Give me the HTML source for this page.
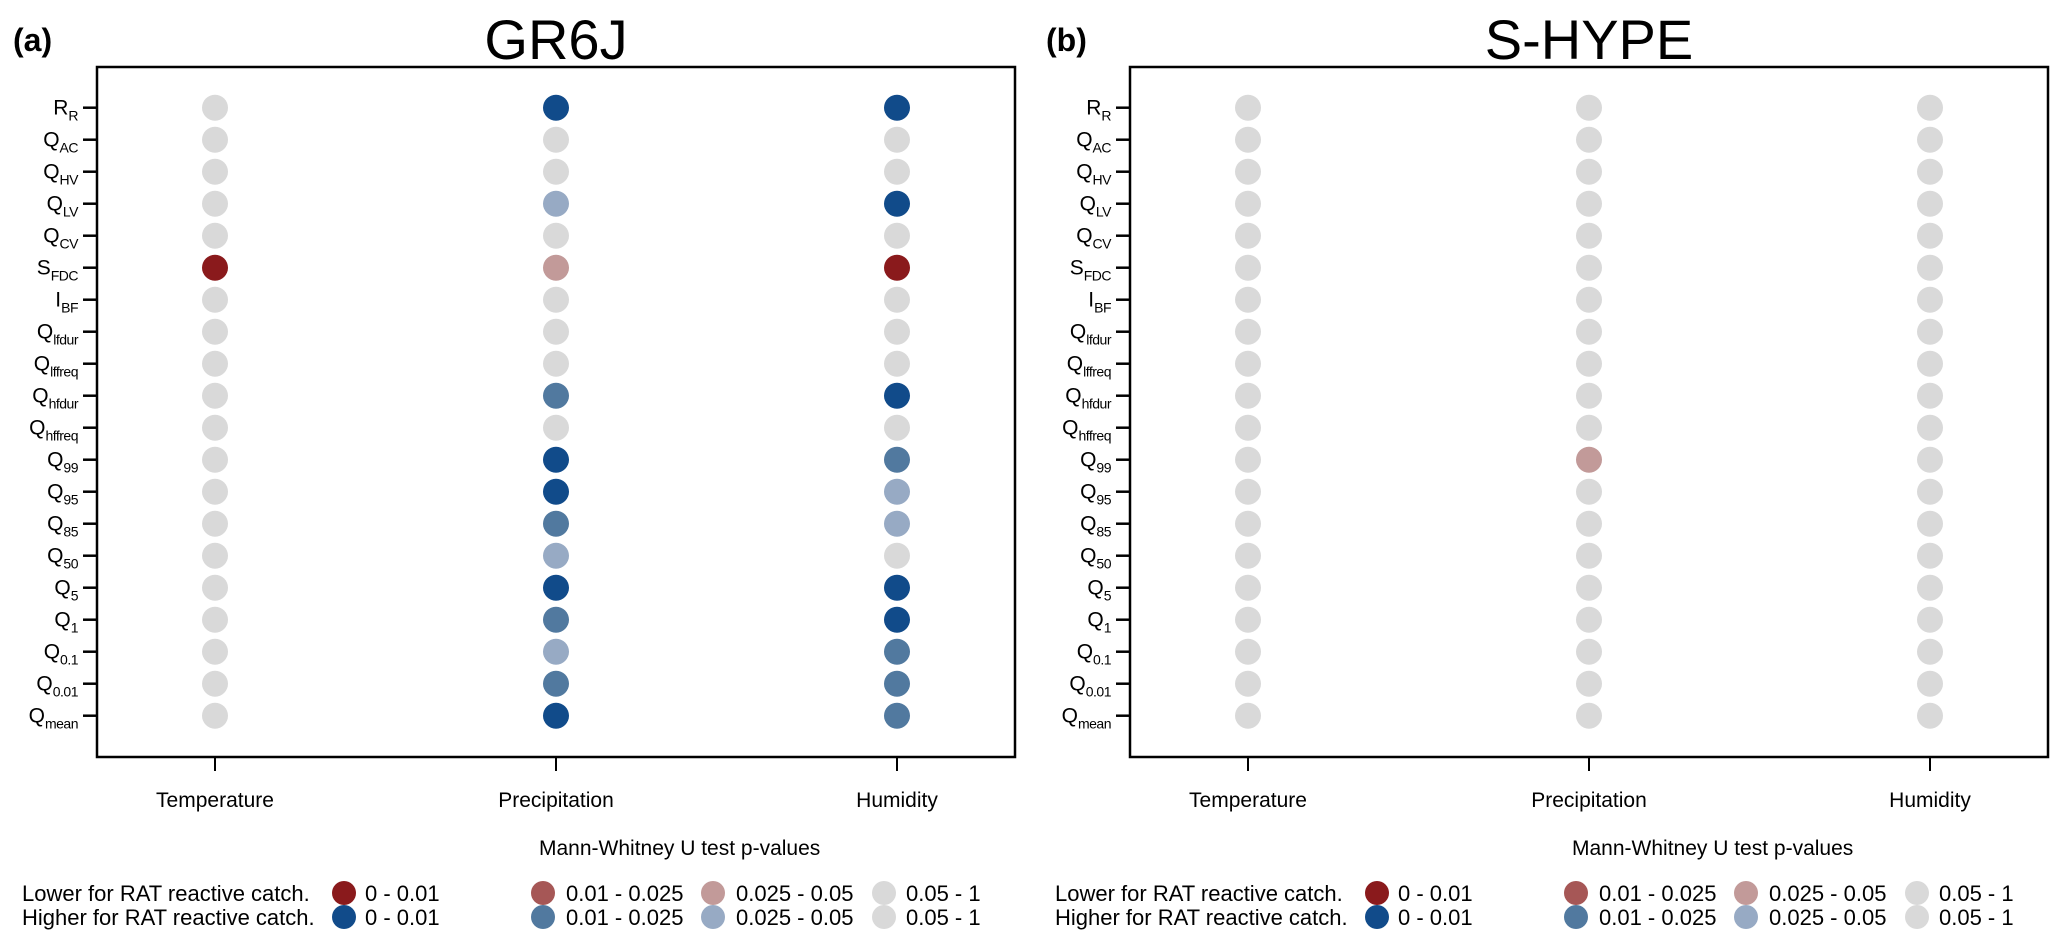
<!DOCTYPE html>
<html><head><meta charset="utf-8"><style>
html,body{margin:0;padding:0;background:#fff;}
svg{display:block;font-family:"Liberation Sans",Arial,sans-serif;}
</style></head><body>
<svg id="chart" width="2067" height="949" viewBox="0 0 2067 949" xmlns="http://www.w3.org/2000/svg"></svg>
<script>
const rowMain = ["R","Q","Q","Q","Q","S","I","Q","Q","Q","Q","Q","Q","Q","Q","Q","Q","Q","Q","Q"];
const rowSub = ["R","AC","HV","LV","CV","FDC","BF","lfdur","lffreq","hfdur","hffreq","99","95","85","50","5","1","0.1","0.01","mean"];
const variables = ["Temperature","Precipitation","Humidity"];
const panelTitles = ["GR6J","S-HYPE"];
const panelTags = ["(a)","(b)"];
// levels: -3 dark red, -2 mid red, -1 light red, 0 grey, 1 light blue, 2 mid blue, 3 dark blue
const gr6jTemperature = [0,0,0,0,0,-3,0,0,0,0,0,0,0,0,0,0,0,0,0,0];
const gr6jPrecipitation = [3,0,0,1,0,-1,0,0,0,2,0,3,3,2,1,3,2,1,2,3];
const gr6jHumidity = [3,0,0,3,0,-3,0,0,0,3,0,2,1,1,0,3,3,2,2,2];
const shypeTemperature = [0,0,0,0,0,0,0,0,0,0,0,0,0,0,0,0,0,0,0,0];
const shypePrecipitation = [0,0,0,0,0,0,0,0,0,0,0,-1,0,0,0,0,0,0,0,0];
const shypeHumidity = [0,0,0,0,0,0,0,0,0,0,0,0,0,0,0,0,0,0,0,0];
const legendRanges = ["0 - 0.01","0.01 - 0.025","0.025 - 0.05","0.05 - 1"];

const colorMap = {"-3":"#8a1a1c","-2":"#a65756","-1":"#c29a99","0":"#d9d9d9","1":"#97aac4","2":"#51799f","3":"#114b8a"};
const NS="http://www.w3.org/2000/svg";
const svg=document.getElementById('chart');
function mk(tag,attrs,parent){const e=document.createElementNS(NS,tag);for(const k in attrs)e.setAttribute(k,attrs[k]);(parent||svg).appendChild(e);return e;}

const panels=[{x0:97,x1:1015,data:[gr6jTemperature,gr6jPrecipitation,gr6jHumidity]},
              {x0:1130,x1:2048,data:[shypeTemperature,shypePrecipitation,shypeHumidity]}];
const yTop=67,yBot=757;
function yPos(i){return 107.7+i*32;}
function xPos(p,j){const inner=p.x0+118;return inner+j*((p.x1-118)-inner)/(variables.length-1);}

panels.forEach((p,pi)=>{
  const g=mk('g',{});
  
  
  const tag=mk('text',{x:p.x0-84,y:51,'font-size':32,'font-weight':'bold'},g);
  tag.textContent=panelTags[pi];
  
  
  const t=mk('text',{x:(p.x0+p.x1)/2,y:59,'font-size':56,'text-anchor':'middle'},g);
  t.textContent=panelTitles[pi];
  
  
  const box=mk('rect',{x:p.x0,y:yTop,width:p.x1-p.x0,height:yBot-yTop,fill:'none',stroke:'#000','stroke-width':2.5},g);
  
  
  rowSub.forEach((s,i)=>{
    const y=yPos(i);
    mk('line',{x1:p.x0-14,x2:p.x0,y1:y,y2:y,stroke:'#000','stroke-width':2.5},g);
    const lab=mk('text',{x:p.x0-19,y:y+7,'font-size':21,'text-anchor':'end'},g);
    
    
    const m=mk('tspan',{},lab);m.textContent=rowMain[i];
    const sb=mk('tspan',{dy:6,'font-size':14,'letter-spacing':'-0.5'},lab);sb.textContent=s;
  });
  variables.forEach((v,j)=>{
    const x=xPos(p,j);
    mk('line',{x1:x,x2:x,y1:yBot,y2:yBot+14,stroke:'#000','stroke-width':2},g);
    const lab=mk('text',{x:x,y:807,'font-size':21,'text-anchor':'middle'},g);
    lab.textContent=v;
    
    
    p.data[j].forEach((val,i)=>{
      const c=mk('circle',{cx:x,cy:yPos(i),r:13,fill:colorMap[val]},g);
      
      
    });
  });
  const off=p.x0-97;
  const lg=mk('g',{},g);
  
  
  const lt=mk('text',{x:539+off,y:855,'font-size':21},lg);
  lt.textContent='Mann-Whitney U test p-values';
  
  
  const rowsY=[893,917];
  const rowNames=['Lower for RAT reactive catch.','Higher for RAT reactive catch.'];
  const dotX=[344,543,713,884];
  const txtX=[365,566,736,906];
  rowsY.forEach((y,r)=>{
    const rn=mk('text',{x:22+off,y:y+8,'font-size':22},lg);
    rn.textContent=rowNames[r];
    
    
    const sign=r===0?-1:1;
    legendRanges.forEach((lbl,k)=>{
      const lvl=k===3?0:sign*(3-k);
      const c=mk('circle',{cx:dotX[k]+off,cy:y,r:12,fill:colorMap[lvl]},lg);
      
      
      const tx=mk('text',{x:txtX[k]+off,y:y+8,'font-size':22},lg);
      tx.textContent=lbl;
      
      
    });
  });
});
</script>
</body></html>
